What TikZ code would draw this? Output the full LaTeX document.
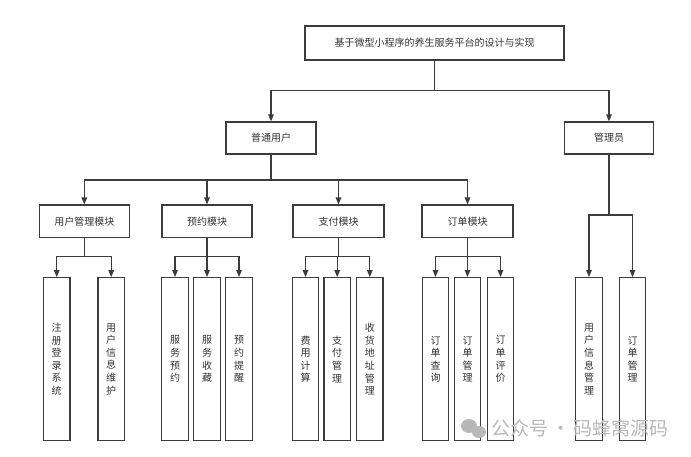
\documentclass[tikz,border=0pt]{standalone}
\usepackage{fontspec}
\setmainfont{Noto Sans CJK SC}
\usetikzlibrary{arrows.meta}
\definecolor{ln}{HTML}{3C3C3C}
\definecolor{tx}{HTML}{333333}
\definecolor{wm}{HTML}{B8B8B8}
\tikzset{
  box/.style={draw=ln, line width=1.2pt, inner sep=0pt, text=tx, font=\fontsize{10}{11}\selectfont},
  leaf/.style={box, minimum width=26.5pt, minimum height=163pt, align=center, font=\fontsize{10}{12.6}\selectfont},
  conn/.style={draw=ln, line width=1.2pt},
  arr/.style={conn, -{Triangle[length=7pt,width=5.5pt]}},
}
\begin{document}
\begin{tikzpicture}[x=1pt,y=-1pt]
\useasboundingbox (0,0) rectangle (691,456);
% top level
\node[box, minimum width=259pt, minimum height=34pt] (top) at (434.5,43) {基于微型小程序的养生服务平台的设计与实现};
\node[box, minimum width=90pt, minimum height=32pt] (user) at (271,138) {普通用户};
\node[box, minimum width=89.5pt, minimum height=32pt] (admin) at (609,138) {管理员};
% modules
\node[box, minimum width=90pt, minimum height=32.5pt] (m1) at (84.3,221.3) {用户管理模块};
\node[box, minimum width=90pt, minimum height=32.5pt] (m2) at (207,221.3) {预约模块};
\node[box, minimum width=91pt, minimum height=32.5pt] (m3) at (338.5,221.3) {支付模块};
\node[box, minimum width=91pt, minimum height=32.5pt] (m4) at (467.5,221.3) {订单模块};
% leaves
\node[leaf] (l11) at (56.7,359.2) {注\\册\\登\\录\\系\\统};
\node[leaf] (l12) at (111.2,359.2) {用\\户\\信\\息\\维\\护};
\node[leaf] (l21) at (175,359.2) {服\\务\\预\\约};
\node[leaf] (l22) at (207,359.2) {服\\务\\收\\藏};
\node[leaf] (l23) at (239,359.2) {预\\约\\提\\醒};
\node[leaf] (l31) at (305.5,359.2) {费\\用\\计\\算};
\node[leaf] (l32) at (337.2,359.2) {支\\付\\管\\理};
\node[leaf] (l33) at (369.8,359.2) {收\\货\\地\\址\\管\\理};
\node[leaf] (l41) at (435.5,359.2) {订\\单\\查\\询};
\node[leaf] (l42) at (467.5,359.2) {订\\单\\管\\理};
\node[leaf] (l43) at (500.5,359.2) {订\\单\\评\\价};
\node[leaf] (l51) at (589,359.2) {用\\户\\信\\息\\管\\理};
\node[leaf] (l52) at (632.5,359.2) {订\\单\\管\\理};
% junctions
\coordinate (j0) at (434.5,90.7);
\coordinate (j1) at (271,180);
\coordinate (j2) at (609,215);
\coordinate (k1) at (84.3,256.7);
\coordinate (k2) at (207,256.7);
\coordinate (k3) at (338.5,256.7);
\coordinate (k4) at (467.5,256.7);
% connectors
\draw[conn] (top.south) -- (j0);
\draw[arr] (j0) -| (user.north);
\draw[arr] (j0) -| (admin.north);
\draw[conn] (user.south) -- (j1);
\draw[arr] (j1) -| (m1.north);
\draw[arr] (j1) -| (m2.north);
\draw[arr] (j1) -| (m3.north);
\draw[arr] (j1) -| (m4.north);
\draw[conn] (admin.south) -- (j2);
\draw[arr] (j2) -| (l51.north);
\draw[arr] (j2) -| (l52.north);
\draw[conn] (m1.south) -- (k1);
\draw[arr] (k1) -| (l11.north);
\draw[arr] (k1) -| (l12.north);
\draw[conn] (m2.south) -- (k2);
\draw[arr] (k2) -| (l21.north);
\draw[arr] (k2) -- (l22.north);
\draw[arr] (k2) -| (l23.north);
\draw[conn] (m3.south) -- (k3);
\draw[arr] (k3) -| (l31.north);
\draw[arr] (k3) -| (l32.north);
\draw[arr] (k3) -| (l33.north);
\draw[conn] (m4.south) -- (k4);
\draw[arr] (k4) -| (l41.north);
\draw[arr] (k4) -- (l42.north);
\draw[arr] (k4) -| (l43.north);
% watermark
\fill[wm] (469,426) ellipse (8pt and 7pt);
\fill[wm] (479,432) ellipse (7pt and 6pt);
\node[text=wm, font=\fontsize{19}{21}\selectfont, anchor=west, inner sep=0pt] (wmk) at (491.5,428) {公众号\hspace{3pt}·\hspace{3pt}码蜂窝源码};
\end{tikzpicture}
\end{document}
